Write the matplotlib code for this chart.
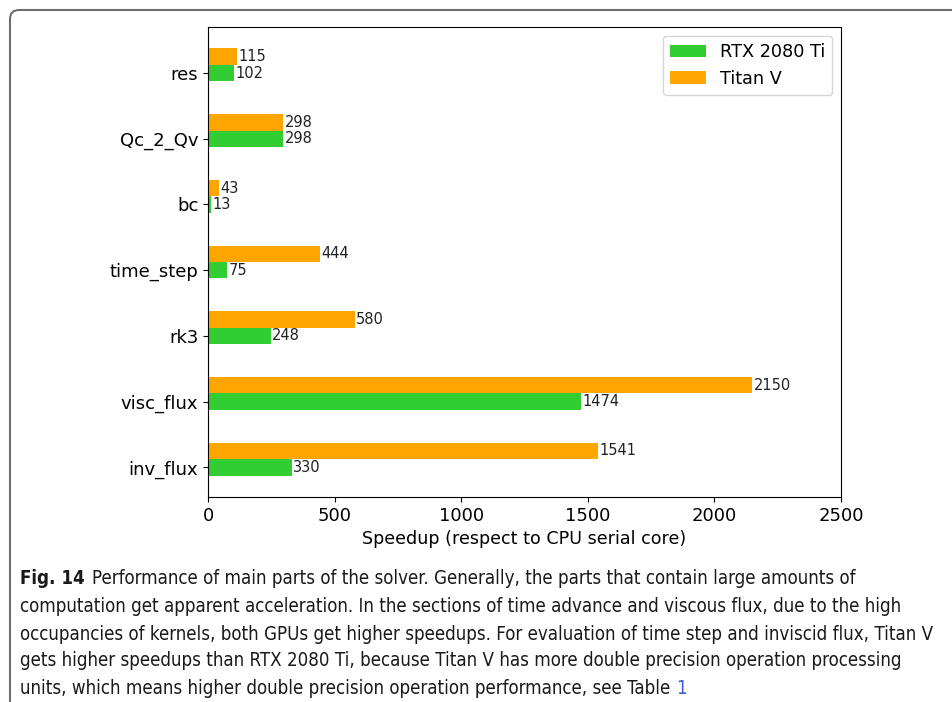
import matplotlib
matplotlib.use("Agg")
import matplotlib.pyplot as plt
import numpy as np
from matplotlib.patches import FancyBboxPatch
from matplotlib import font_manager
from matplotlib.font_manager import FontProperties

categories = ["inv_flux", "visc_flux", "rk3", "time_step", "bc", "Qc_2_Qv", "res"]
rtx_2080ti = [330, 1474, 248, 75, 13, 298, 102]
titan_v = [1541, 2150, 580, 444, 43, 298, 115]
series_names = ["RTX 2080 Ti", "Titan V"]
x_ticks = [0, 500, 1000, 1500, 2000, 2500]

caption_lines = [
    "Performance of main parts of the solver. Generally, the parts that contain large amounts of",
    "computation get apparent acceleration. In the sections of time advance and viscous flux, due to the high",
    "occupancies of kernels, both GPUs get higher speedups. For evaluation of time step and inviscid flux, Titan V",
    "gets higher speedups than RTX 2080 Ti, because Titan V has more double precision operation processing",
    "units, which means higher double precision operation performance, see Table ",
]

W, H = 952, 702
fig = plt.figure(figsize=(W / 100, H / 100), dpi=100)


def pick_condensed(bold):
    """Return a FontProperties for a condensed/narrow face, if one is installed."""
    best = None
    for f in font_manager.fontManager.ttflist:
        p = f.fname.lower()
        narrow = ("condensed" in p or "narrow" in p or
                  str(f.stretch) in ("condensed", "semi-condensed", "extra-condensed"))
        if not narrow or "italic" in p or "oblique" in p or "light" in p:
            continue
        is_bold = ("bold" in p) or (isinstance(f.weight, int) and f.weight >= 600) or f.weight == "bold"
        if is_bold != bold:
            continue
        if "semi" in p or "extra" in p or "ultra" in p:
            if best is None:
                best = f
            continue
        best = f
        break
    if best is None:
        return FontProperties(family="DejaVu Sans", weight="bold" if bold else "normal")
    return FontProperties(fname=best.fname)


fp_reg = pick_condensed(False)
fp_bold = pick_condensed(True)

# Outer frame with a rounded corner
frame = FancyBboxPatch((10, -40), 1000, H - 10 + 40,
                       boxstyle="round,pad=0,rounding_size=9",
                       transform=None, fill=False, edgecolor="#6e6e6e",
                       linewidth=1.5)
fig.patches.append(frame)

ax = fig.add_axes([208 / W, 1 - 497 / H, (841 - 208) / W, (497 - 27) / H])
y = np.arange(len(categories))
h = 0.25
b1 = ax.barh(y, rtx_2080ti, height=h, color="#32cd32", label=series_names[0])
b2 = ax.barh(y + h, titan_v, height=h, color="#ffa500", label=series_names[1])
ax.bar_label(b1, labels=[str(v) for v in rtx_2080ti], padding=1, fontsize=10.5, color="#222222")
ax.bar_label(b2, labels=[str(v) for v in titan_v], padding=1, fontsize=10.5, color="#222222")

ax.set_yticks(y)
ax.set_yticklabels(categories, fontsize=13)
ax.set_xticks(x_ticks)
ax.set_xticklabels([str(t) for t in x_ticks], fontsize=13)
ax.set_xlim(0, 2500)
ax.set_xlabel("Speedup (respect to CPU serial core)", fontsize=12.6)
ax.legend(loc="upper right", fontsize=12.7)

# Caption text, placed line by line; size chosen so the widest line spans the frame
renderer = fig.canvas.get_renderer()
probe = fig.text(0, 0, caption_lines[2], fontproperties=fp_reg, fontsize=10)
probe_w = probe.get_window_extent(renderer).width
probe.remove()
cap_size = min(14.5, 10 * 918 / probe_w)
fp_reg.set_size(cap_size)
fp_bold.set_size(cap_size)

x0 = 20 / W
ys = [578, 606, 634, 661, 688]
txt_color = "#1a1a1a"
bold = fig.text(x0, 1 - ys[0] / H, "Fig. 14", fontproperties=fp_bold,
                va="center", ha="left", color=txt_color)
bb = bold.get_window_extent(renderer)
fig.text((bb.x1 + 7) / W, 1 - ys[0] / H, caption_lines[0], fontproperties=fp_reg,
         va="center", ha="left", color=txt_color)
for line, yy in zip(caption_lines[1:], ys[1:]):
    t = fig.text(x0, 1 - yy / H, line, fontproperties=fp_reg,
                 va="center", ha="left", color=txt_color)
bb = t.get_window_extent(renderer)
fig.text(bb.x1 / W, 1 - ys[-1] / H, "1", fontproperties=fp_reg,
         va="center", ha="left", color="#3b5bdb")

fig.savefig("out.png", dpi=100)
